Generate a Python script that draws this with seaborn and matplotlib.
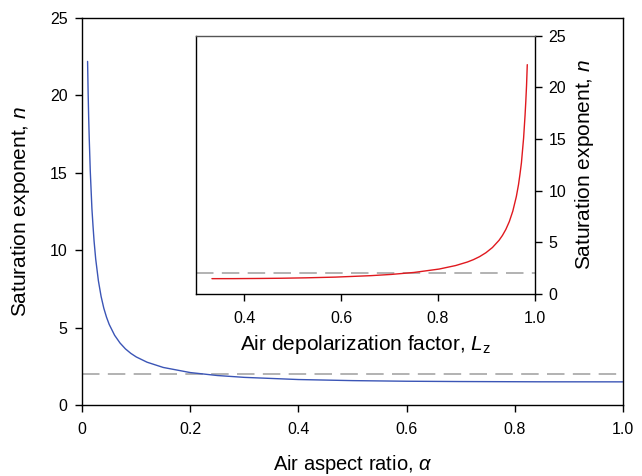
import numpy as np
import pandas as pd
import matplotlib
matplotlib.use("Agg")
import matplotlib.pyplot as plt
import seaborn as sns

# values
alpha = [0.010, 0.011, 0.012, 0.013, 0.015, 0.018, 0.020, 0.022, 0.025, 0.030,
         0.035, 0.040, 0.045, 0.050, 0.060, 0.070, 0.080, 0.090, 0.10, 0.12,
         0.15, 0.20, 0.25, 0.30, 0.40, 0.50, 0.60, 0.70, 0.85, 1.00]
L_z = [0.9845, 0.9830, 0.9814, 0.9799, 0.9769, 0.9724, 0.9694, 0.9664, 0.9619, 0.9546,
       0.9474, 0.9402, 0.9332, 0.9262, 0.9125, 0.8991, 0.8860, 0.8733, 0.8608, 0.8367,
       0.8026, 0.7505, 0.7036, 0.6614, 0.5882, 0.5272, 0.4758, 0.4321, 0.3776, 0.3333]
n = [22.2, 20.2, 18.6, 17.3, 15.1, 12.7, 11.6, 10.6, 9.44, 8.03,
     7.02, 6.26, 5.68, 5.21, 4.51, 4.01, 3.63, 3.34, 3.11, 2.77,
     2.43, 2.10, 1.91, 1.79, 1.65, 1.58, 1.54, 1.52, 1.503, 1.50]
n_ref = 2.0

df = pd.DataFrame({"alpha": alpha, "L_z": L_z, "n": n})

sns.set_style("ticks")
plt.rcParams["font.family"] = ["Liberation Sans", "DejaVu Sans"]
plt.rcParams["mathtext.fontset"] = "custom"
plt.rcParams["mathtext.it"] = "Liberation Sans:italic"
plt.rcParams["mathtext.rm"] = "Liberation Sans"
plt.rcParams["text.color"] = "black"
plt.rcParams["axes.labelcolor"] = "black"

fig = plt.figure(figsize=(6.42, 4.76), dpi=100)
ax = fig.add_axes([0.128, 0.149, 0.842, 0.813])

sns.lineplot(data=df, x="alpha", y="n", ax=ax, color="#3b55b6", lw=1.0, sort=False)
ax.axhline(n_ref, color="#a6a6a6", lw=1.2, dashes=(10.5, 5), zorder=1)
ax.set_xlim(0, 1)
ax.set_ylim(0, 25)
ax.set_xticks([0, 0.2, 0.4, 0.6, 0.8, 1.0])
ax.set_xticklabels(["0", "0.2", "0.4", "0.6", "0.8", "1.0"])
ax.set_yticks([0, 5, 10, 15, 20, 25])
ax.tick_params(labelsize=11.5, length=5, width=1, color="black", labelcolor="black")
ax.tick_params(axis="x", pad=7)
ax.tick_params(axis="y", pad=5.5)
ax.set_xlabel(r"Air aspect ratio, $\alpha$", fontsize=14.5, labelpad=12)
ax.set_ylabel(r"Saturation exponent, $n$", fontsize=15, labelpad=13)
for s in ax.spines.values():
    s.set_color("black")
    s.set_linewidth(1)

# inset
ins = fig.add_axes([0.305, 0.382, 0.528, 0.543])
sns.lineplot(data=df, x="L_z", y="n", ax=ins, color="#e0191f", lw=1.0, sort=False)
ins.axhline(n_ref, color="#a6a6a6", lw=1.2, dashes=(10.5, 5), zorder=1)
ins.set_xlim(0.3, 1.0)
ins.set_ylim(0, 25)
ins.set_xticks([0.4, 0.6, 0.8, 1.0])
ins.set_yticks([0, 5, 10, 15, 20, 25])
ins.yaxis.tick_right()
ins.yaxis.set_label_position("right")
ins.tick_params(labelsize=11.5, length=5, width=1, color="black", labelcolor="black")
ins.tick_params(axis="x", pad=7)
ins.tick_params(axis="y", pad=5)
ins.set_xlabel(r"Air depolarization factor, $L_\mathrm{z}$", fontsize=15, labelpad=5)
ins.set_ylabel(r"Saturation exponent, $n$", fontsize=15, labelpad=5)
for s in ins.spines.values():
    s.set_color("black")
    s.set_linewidth(1)
ins.spines["top"].set_color("#555555")

fig.savefig("out.png", dpi=100)
